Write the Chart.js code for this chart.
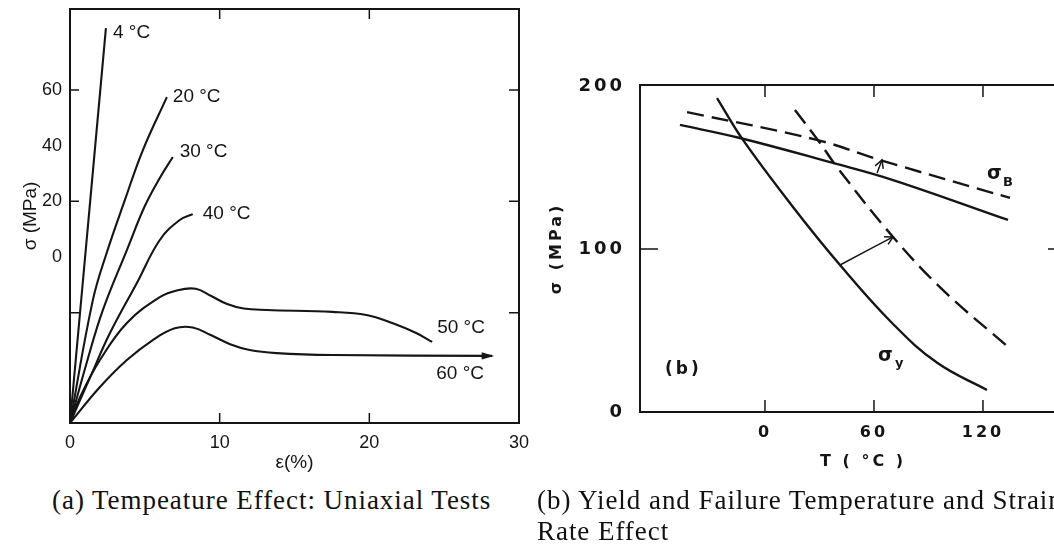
<!DOCTYPE html>
<html>
<head>
<meta charset="utf-8">
<script src="https://cdn.jsdelivr.net/npm/chart.js@4.4.1/dist/chart.umd.min.js"></script>
<style>
  html, body { margin: 0; padding: 0; background: #fff; }
  body { width: 1054px; height: 547px; overflow: hidden; position: relative; }
  #ca { position: absolute; left: 0; top: 0; }
  #cb { position: absolute; left: 530px; top: 0; }
  .cap { position: absolute; font-family: "Liberation Serif", "DejaVu Serif", serif; font-size: 27px;
         letter-spacing: 0.95px; color: #111; white-space: nowrap; line-height: 31px; }
</style>
</head>
<body>
<canvas id="ca" width="540" height="480"></canvas>
<canvas id="cb" width="530" height="480"></canvas>
<div class="cap" style="left:52px; top:485px">(a) Tempeature Effect: Uniaxial Tests</div>
<div class="cap" style="left:537px; top:485px">(b) Yield and Failure Temperature and Strain<br>Rate Effect</div>

<script>
/* ── (a) uniaxial curves: strain (%) , stress (MPa, as the axis is labelled) ── */
var A_X_TICKS = [0, 10, 20, 30];
var A_Y_TICKS = [0, 20, 40, 60];
var A_X_MARKS = [10, 20];
var A_Y_MARKS = [-20, 20, 60];

var A_4C  = [[0, -59.6], [1.2, 11.3], [2.4, 82.2]];
var A_20C = [[0, -59.6], [1.53, -15.4], [2.47, 1.8], [3.67, 20.5], [4.87, 38.4], [6.47, 57.4]];
var A_30C = [[0, -59.6], [1.13, -37.7], [2.2, -19.0], [3.8, 2.5], [5.0, 18.3], [6.0, 28.4], [6.87, 35.9]];
var A_40C = [[0, -59.6], [1.33, -43.4], [2.67, -27.3], [4.47, -9.3], [6.0, 6.1], [7.33, 13.3], [8.2, 15.4]];
var A_50C = [[0, -59.6], [0.67, -50.3], [2.0, -37.0], [3.8, -23.7], [6.0, -14.4], [7.2, -11.9], [8.4, -11.4],
             [9.4, -13.9], [10.5, -16.9], [11.6, -18.5], [13.13, -19.0], [17.53, -19.7], [19.8, -20.8],
             [21.53, -23.7], [23.13, -27.3], [24.2, -30.5]];
var A_60C = [[0, -59.6], [2.0, -46.7], [3.8, -37.0], [5.53, -29.8], [7.0, -25.6], [8.2, -25.3], [9.4, -28.0],
             [10.7, -31.3], [12.0, -33.4], [13.8, -34.5], [17.53, -35.2], [28.2, -35.5]];
var A_SERIES = [A_4C, A_20C, A_30C, A_40C, A_50C, A_60C];

/* curve labels: text, strain, stress */
var A_NOTES = [
  ["4 °C", 2.87, 80.4], ["20 °C", 6.87, 57.4], ["30 °C", 7.33, 37.7],
  ["40 °C", 8.87, 15.4], ["50 °C", 24.53, -25.5], ["60 °C", 24.47, -42.0]
];

/* ── (b) yield / failure stress vs temperature ── */
var B_X_TICKS = [0, 60, 120];
var B_Y_TICKS = [0, 100, 200];
var B_X_MARKS = [0, 60, 120];
var B_Y_MARKS = [100];

var B_SB_SOLID = [[-46.8, 176.1], [-13.8, 168.1], [37.4, 152.8], [70.5, 142.3], [133.8, 117.8]];
var B_SB_DASH  = [[-42.9, 184.0], [28.6, 166.9], [63.3, 154.6], [134.9, 131.3]];
var B_SY_SOLID = [[-26.4, 192.6], [-12.1, 166.9], [15.4, 125.8], [41.3, 90.2], [70.5, 54.0],
                  [95.0, 30.0], [122.2, 13.5]];
var B_SY_DASH  = [[16.5, 185.3], [30.3, 165.0], [39.6, 150.3], [70.5, 107.4], [98.0, 74.8], [133.8, 39.9]];
var B_ARROW_B  = [[61.7, 146.6], [64.4, 154.6]];
var B_ARROW_Y  = [[41.3, 90.2], [70.5, 107.4]];

var B_NOTES = [
  ["σ", 122.2, 146.0, 19, "left"], ["B", 131.0, 140.5, 13, "left"],
  ["σ", 62.2, 34.4, 19, "left"], ["y", 71.6, 29.4, 13, "left"],
  ["(b)", -55.0, 25.8, 17, "left"], ["T ( °C )", 54, -30.7, 16, "center"]
];

var INK = "#151515";
var SANS = "'Liberation Sans', Arial, sans-serif";
var LEROY = "'DejaVu Sans', sans-serif";

function pts(a) { return a.map(function (p) { return { x: p[0], y: p[1] }; }); }
function fixTicks(list) { return function (s) { s.ticks = list.map(function (v) { return { value: v }; }); }; }
function fitX(h) { return function (s) { s.height = h; s.paddingLeft = 0; s.paddingRight = 0; }; }
function fitY(w) { return function (s) { s.width = w; s.paddingTop = 0; s.paddingBottom = 0; }; }

/* frame box + inward tick marks */
function frameMarks(o) {
  return {
    id: "frameMarks",
    afterDatasetsDraw: function (chart) {
      var a = chart.chartArea, ctx = chart.ctx, sx = chart.scales.x, sy = chart.scales.y;
      ctx.save();
      ctx.strokeStyle = INK;
      ctx.lineWidth = 2;
      ctx.strokeRect(a.left, a.top, a.right - a.left, a.bottom - a.top);
      ctx.lineWidth = o.lw;
      ctx.beginPath();
      o.xMarks.forEach(function (v) {
        var p = sx.getPixelForValue(v);
        ctx.moveTo(p, a.bottom); ctx.lineTo(p, a.bottom - o.xLen);
        ctx.moveTo(p, a.top); ctx.lineTo(p, a.top + o.xLen);
      });
      o.yMarks.forEach(function (v) {
        var p = sy.getPixelForValue(v);
        ctx.moveTo(a.left, p); ctx.lineTo(a.left + o.yLenL, p);
        ctx.moveTo(a.right, p); ctx.lineTo(a.right - o.yLenR, p);
      });
      ctx.stroke();
      ctx.restore();
    }
  };
}

function notes(list, fontFn) {
  return {
    id: "notes",
    afterDatasetsDraw: function (chart) {
      var ctx = chart.ctx, sx = chart.scales.x, sy = chart.scales.y;
      ctx.save();
      ctx.fillStyle = INK;
      ctx.textBaseline = "middle";
      list.forEach(function (n) {
        ctx.font = fontFn(n[3]);
        ctx.textAlign = n[4] || "left";
        ctx.fillText(n[0], sx.getPixelForValue(n[1]), sy.getPixelForValue(n[2]));
      });
      ctx.restore();
    }
  };
}

/* arrow heads at the last point of chosen datasets */
function heads(idx, filled) {
  return {
    id: "heads",
    afterDatasetsDraw: function (chart) {
      var ctx = chart.ctx;
      ctx.save();
      ctx.strokeStyle = INK; ctx.fillStyle = INK; ctx.lineWidth = 1.5;
      idx.forEach(function (i) {
        var el = chart.getDatasetMeta(i).data, p = el[el.length - 1], q = el[el.length - 2];
        var ang = Math.atan2(p.y - q.y, p.x - q.x), L = filled ? 11 : 9, w = filled ? 0.33 : 0.5;
        ctx.beginPath();
        ctx.moveTo(p.x - L * Math.cos(ang - w), p.y - L * Math.sin(ang - w));
        ctx.lineTo(p.x + (filled ? 2 : 0) * Math.cos(ang), p.y + (filled ? 2 : 0) * Math.sin(ang));
        ctx.lineTo(p.x - L * Math.cos(ang + w), p.y - L * Math.sin(ang + w));
        if (filled) { ctx.closePath(); ctx.fill(); } else { ctx.stroke(); }
      });
      ctx.restore();
    }
  };
}

/* ── chart (a) ── */
new Chart(document.getElementById("ca"), {
  type: "line",
  data: {
    datasets: A_SERIES.map(function (s) {
      return { data: pts(s), borderColor: INK, borderWidth: 2.1, pointRadius: 0, tension: 0.4, fill: false };
    })
  },
  options: {
    responsive: false, animation: false, events: [],
    layout: { padding: { top: 9, right: 21, left: 0, bottom: 0 } },
    plugins: { legend: { display: false }, tooltip: { enabled: false } },
    scales: {
      x: {
        type: "linear", min: 0, max: 30,
        grid: { display: false, drawTicks: false }, border: { display: false },
        afterBuildTicks: fixTicks(A_X_TICKS),
        afterFit: fitX(57),
        ticks: { color: INK, font: { family: SANS, size: 18 }, padding: 9, maxRotation: 0, autoSkip: false },
        title: { display: true, text: "ε(%)", color: INK, font: { family: SANS, size: 19 }, padding: { top: 0, bottom: 6 } }
      },
      y: {
        min: -59.6, max: 89.05,
        grid: { display: false, drawTicks: false }, border: { display: false },
        afterBuildTicks: fixTicks(A_Y_TICKS),
        afterFit: fitY(70),
        ticks: { color: INK, font: { family: SANS, size: 18 }, padding: 8, autoSkip: false },
        title: { display: true, text: "σ (MPa)", color: INK, font: { family: SANS, size: 19 }, padding: { top: 19, bottom: 0 } }
      }
    }
  },
  plugins: [
    frameMarks({ xMarks: A_X_MARKS, yMarks: A_Y_MARKS, xLen: 10, yLenL: 9, yLenR: 10, lw: 1.5 }),
    notes(A_NOTES, function () { return "19px " + SANS; }),
    heads([5], true)
  ]
});

/* ── chart (b) ── */
function bLine(d, dash, w) {
  return { data: pts(d), borderColor: INK, borderWidth: w, borderDash: dash, pointRadius: 0,
           tension: 0.4, fill: false };
}

new Chart(document.getElementById("cb"), {
  type: "line",
  data: {
    datasets: [
      bLine(B_SB_SOLID, [], 2.4),
      bLine(B_SB_DASH, [17, 8], 2.4),
      bLine(B_SY_SOLID, [], 2.4),
      bLine(B_SY_DASH, [17, 8], 2.4),
      bLine(B_ARROW_B, [], 1.5),
      bLine(B_ARROW_Y, [], 1.5)
    ]
  },
  options: {
    responsive: false, animation: false, events: [],
    layout: { padding: { top: 85, right: 2, left: 0, bottom: 0 } },
    plugins: { legend: { display: false }, tooltip: { enabled: false } },
    scales: {
      x: {
        type: "linear", min: -68.8, max: 161.3,
        grid: { display: false, drawTicks: false }, border: { display: false },
        afterBuildTicks: fixTicks(B_X_TICKS),
        afterFit: fitX(68),
        ticks: { color: INK, font: { family: LEROY, size: 16, weight: "bold" }, padding: 11, maxRotation: 0, autoSkip: false }
      },
      y: {
        min: 0, max: 200.6,
        grid: { display: false, drawTicks: false }, border: { display: false },
        afterBuildTicks: fixTicks(B_Y_TICKS),
        afterFit: fitY(110),
        ticks: { color: INK, font: { family: LEROY, size: 18, weight: "bold" }, padding: 15, autoSkip: false },
        title: { display: true, text: "σ (MPa)", color: INK, font: { family: LEROY, size: 16, weight: "bold" }, padding: { top: 17, bottom: 0 } }
      }
    }
  },
  plugins: [
    { id: "spacing", beforeDraw: function (chart) { chart.ctx.letterSpacing = "3px"; } },
    frameMarks({ xMarks: B_X_MARKS, yMarks: B_Y_MARKS, xLen: 12, yLenL: 18, yLenR: 10, lw: 1.5 }),
    notes(B_NOTES, function (sz) { return "bold " + sz + "px " + LEROY; }),
    heads([4, 5], false)
  ]
});
</script>
</body>
</html>
